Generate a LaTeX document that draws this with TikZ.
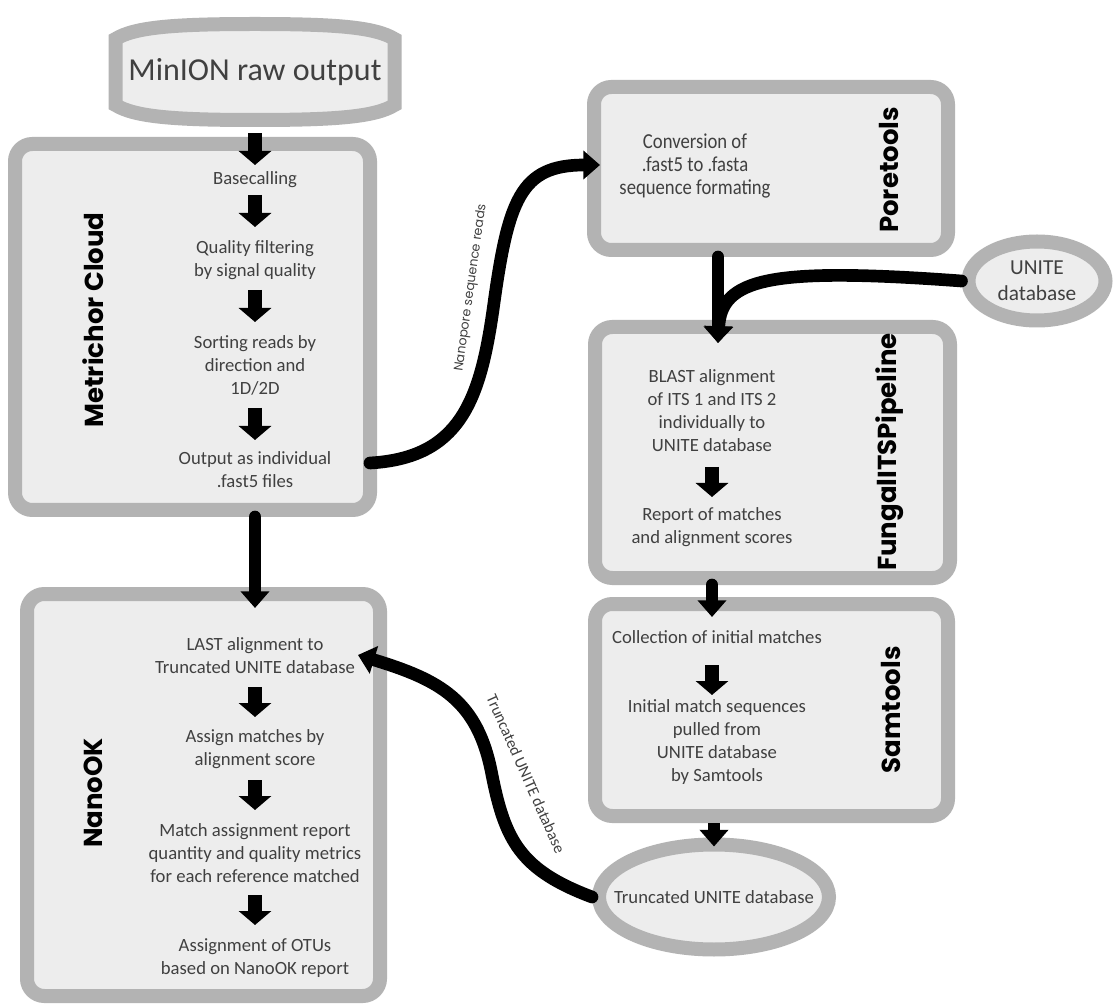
\documentclass[tikz,border=0pt]{standalone}
\usepackage{fontspec}
\setmainfont{Carlito}
\newfontfamily\headfont{Poppins}
\newfontfamily\narrowfont{Carlito}[FakeStretch=0.875]
\usetikzlibrary{positioning,calc,shapes.geometric,arrows.meta}

\definecolor{boxline}{HTML}{B3B3B3}
\definecolor{boxfill}{HTML}{EDEDED}
\definecolor{txtgray}{HTML}{404040}

\tikzset{
  box/.style={draw=boxline, fill=boxfill, line width=10.5pt, rounded corners=13pt, inner sep=0pt},
  oval/.style={ellipse, draw=boxline, fill=boxfill, line width=10.5pt, inner sep=0pt},
  txt/.style={align=center, text=txtgray, font=\fontsize{14}{17.25}\selectfont, inner sep=1pt},
  tool/.style={rotate=90, inner sep=0pt, font=\headfont\bfseries\fontsize{19.5}{22}\selectfont},
  lbl/.style={text=txtgray, inner sep=0pt},
  blockarrow/.style={line width=11pt, -{Triangle[width=24pt,length=10.5pt]}},
  conn/.style={line width=9.5pt, line cap=round, -{Triangle[width=21pt,length=12.5pt]}},
}

\begin{document}
\begin{tikzpicture}[x=0.75pt, y=-0.75pt]
\path[fill=white, use as bounding box] (0,0) rectangle (1118,1005);

% tool boxes
\node[box, minimum width=266.25pt, minimum height=274.5pt] (mc) at (192.5,327) {};
\node[box, minimum width=264.75pt, minimum height=301.5pt] (nk) at (203.5,795) {};
\node[box, minimum width=265.5pt, minimum height=122.25pt] (pt) at (771,168.5) {};
\node[box, minimum width=266.25pt, minimum height=188.25pt] (fg) at (772.5,452.5) {};
\node[box, minimum width=264.75pt, minimum height=159pt] (sm) at (771.5,710) {};

% raw output
\draw[draw=boxline, fill=boxfill, line width=10.5pt] (115.5,39) .. controls (135,27) and (175,24) .. (255,24) .. controls (335,24) and (375,27) .. (394.5,39) -- (394.5,105) .. controls (375,117) and (335,120) .. (255,120) .. controls (175,120) and (135,117) .. (115.5,105) -- cycle;
\node[text=txtgray, inner sep=0pt, minimum width=209.25pt, minimum height=72pt, font=\fontsize{24}{28}\selectfont] (minion) at (255,72) {MinION raw output};

% databases
\node[oval, minimum width=172.5pt, minimum height=78.75pt, label={[txt]center:Truncated UNITE database}] (tr) at (714,897) {};
\node[oval, minimum width=102.75pt, minimum height=59.25pt, label={[txt, font=\fontsize{16}{19.5}\selectfont]center:{UNITE\\database}}] (un) at (1037,281) {};

% Metrichor
\node[tool] (mclabel) at (93,320) {Metrichor Cloud};
\node[txt] (bc) at (255,180) {Basecalling};
\node[txt] (qf) at (255,260) {Quality filtering\\by signal quality};
\node[txt] (sr) at (255,365) {Sorting reads by\\direction and\\1D/2D};
\node[txt] (out) at (255,470) {Output as individual\\.fast5 files};

% NanoOK
\node[tool] (nklabel) at (93,793) {NanoOK};
\node[txt] (la) at (255,656) {LAST alignment to\\Truncated UNITE database};
\node[txt] (am) at (255,749.5) {Assign matches by\\alignment score};
\node[txt] (ma) at (255,853) {Match assignment report\\quantity and quality metrics\\for each reference matched};
\node[txt] (ao) at (255,958.5) {Assignment of OTUs\\based on NanoOK report};

% Poretools
\node[tool] (ptlabel) at (889,170) {Poretools};
\node[txt, font=\narrowfont\fontsize{16}{17.25}\selectfont] (cv) at (695,166) {Conversion of\\.fast5 to .fasta\\sequence formating};

% FungalITSPipeline
\node[tool] (fglabel) at (890,452) {FungalITSPipeline};
\node[txt] (bl) at (712,410.5) {BLAST alignment\\of ITS 1 and ITS 2\\individually to\\UNITE database};
\node[txt] (rp) at (712,527) {Report of matches\\and alignment scores};

% Samtools
\node[tool] (smlabel) at (891,710) {Samtools};
\node[txt] (co) at (717,637) {Collection of initial matches};
\node[txt] (im) at (717,742) {Initial match sequences\\pulled from\\UNITE database\\by Samtools};

% steps inside the boxes
\draw[blockarrow] ($(minion.south)+(0,13)$) -- ($(bc)+(0,-15)$);
\draw[blockarrow] ($(bc)+(0,15)$) -- ($(qf)+(0,-33)$);
\draw[blockarrow] ($(qf)+(0,30)$) -- ($(sr)+(0,-43)$);
\draw[blockarrow] ($(sr)+(0,43)$) -- ($(out)+(0,-30)$);
\draw[blockarrow] ($(la)+(0,31)$) -- ($(am)+(0,-32.5)$);
\draw[blockarrow] ($(am)+(0,30.5)$) -- ($(ma)+(0,-43)$);
\draw[blockarrow] ($(ma)+(0,42)$) -- ($(ao)+(0,-33.5)$);
\draw[blockarrow] ($(bl)+(0,56.5)$) -- ($(rp)+(0,-30)$);
\draw[blockarrow] ($(co)+(-5,28)$) -- ($(im)+(-5,-47)$);

% between the tools
\draw[conn] (mc.south -| out) -- ($(la)+(0,-48)$);
\draw[conn] ($(mc.east |- out)+(-7,-7)$) .. controls (460,458) and (480,400) .. (493,310) .. controls (508,200) and (520,165) .. ($(pt.west)+(13,-3.5)$);
\draw[conn] ($(pt.south -| bl)+(6,0)$) -- ($(bl)+(6,-67.5)$);
\draw[conn] (un.west) .. controls +(-190,-14) and +(3,-65) .. ($(bl)+(6,-67.5)$);
\draw[conn] (fg.south -| rp) -- ($(co)+(-5,-20)$);
\draw[conn, line cap=butt] (sm.south -| tr) -- ($(tr.north)+(0,9)$);
\draw[conn] (tr.west) .. controls (520,870) and (505,840) .. (492,775) .. controls (478,700) and (440,680) .. ($(la)+(103,-1)$);

% connector labels
\node[lbl, rotate=82, font=\headfont\fontsize{9.5}{11}\selectfont] (nsr) at (471,288) {Nanopore sequence reads};
\node[lbl, rotate=-66, font=\fontsize{12}{14}\selectfont] (tud) at (526,774) {Truncated UNITE database};
\end{tikzpicture}
\end{document}
